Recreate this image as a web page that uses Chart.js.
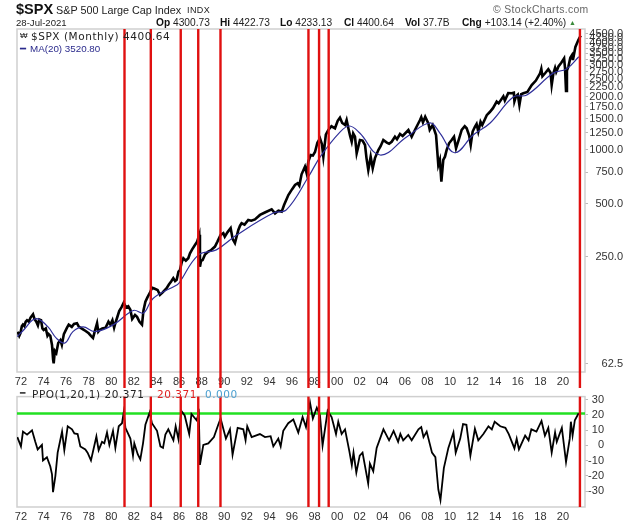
<!DOCTYPE html>
<html>
<head>
<meta charset="utf-8">
<script src="https://cdn.jsdelivr.net/npm/chart.js@4/dist/chart.umd.min.js"></script>
<style>
  html, body { margin: 0; padding: 0; background: #fff; }
  body { width: 640px; height: 523px; position: relative; overflow: hidden; font-family: "Liberation Sans", Arial, sans-serif; color: #222; }
  canvas { position: absolute; left: 0; }
  #priceChart { top: 0; }
  #ppoChart { top: 388px; }
  .txt { position: absolute; white-space: nowrap; z-index: 2; }
  .mono { font-family: "DejaVu Sans", sans-serif; font-size: 10.5px; letter-spacing: 0.55px; }
  b { color: #111; }
</style>
</head>
<body>
<div class="txt" style="left:16px;top:1px;font-size:14.5px;font-weight:bold;color:#111">$SPX</div>
<div class="txt" style="left:56px;top:4px;font-size:10.8px">S&amp;P 500 Large Cap Index</div>
<div class="txt" style="left:187px;top:5px;font-size:9px;letter-spacing:.4px">INDX</div>
<div class="txt" style="left:16px;top:17px;font-size:9.6px">28-Jul-2021</div>
<div class="txt" style="left:156px;top:17px;font-size:10.2px"><b>Op</b> 4300.73</div>
<div class="txt" style="left:220px;top:17px;font-size:10.2px"><b>Hi</b> 4422.73</div>
<div class="txt" style="left:280px;top:17px;font-size:10.2px"><b>Lo</b> 4233.13</div>
<div class="txt" style="left:344px;top:17px;font-size:10.2px"><b>Cl</b> 4400.64</div>
<div class="txt" style="left:405px;top:17px;font-size:10.2px"><b>Vol</b> 37.7B</div>
<div class="txt" style="left:462px;top:17px;font-size:10.2px"><b>Chg</b> +103.14 (+2.40%) <span style="color:#3a8a3a;font-size:7px;vertical-align:1px">▲</span></div>
<div class="txt" style="left:493px;top:4px;font-size:10.4px;color:#666;letter-spacing:.35px">© StockCharts.com</div>
<div class="txt" style="left:20px;top:31px;font-size:8px">₩</div>
<div class="txt mono" style="left:31px;top:30px">$SPX (Monthly) 4400.64</div>
<div class="txt" style="left:20px;top:43px;font-size:9.6px;color:#2a2a8c">━</div>
<div class="txt" style="left:30px;top:43px;font-size:9.8px;color:#2a2a8c">MA(20) 3520.80</div>
<div class="txt" style="left:20px;top:388px;font-size:9px">━</div>
<div class="txt mono" style="left:32px;top:388px">PPO(1,20,1) 20.371</div>
<div class="txt mono" style="left:157px;top:388px;color:#e02020">20.371</div>
<div class="txt mono" style="left:205px;top:388px;color:#4a9fd0">0.000</div>
<canvas id="priceChart" width="640" height="388"></canvas>
<canvas id="ppoChart" width="640" height="135"></canvas>
<script>
const priceDates = [1971.71,1971.85,1971.95,1972.08,1972.18,1972.3,1972.42,1972.54,1972.7,1972.85,1973.07,1973.2,1973.36,1973.5,1973.62,1973.78,1973.9,1974.01,1974.2,1974.35,1974.45,1974.6,1974.75,1974.85,1974.9,1975,1975.13,1975.3,1975.49,1975.62,1975.8,1976.08,1976.23,1976.5,1976.7,1976.96,1977.1,1977.26,1977.6,1978,1978.2,1978.38,1978.55,1978.74,1978.85,1978.97,1979.2,1979.5,1979.75,1979.92,1980.1,1980.25,1980.36,1980.5,1980.7,1980.9,1981.1,1981.3,1981.5,1981.69,1981.85,1982.1,1982.28,1982.5,1982.72,1982.85,1983.02,1983.2,1983.46,1983.6,1983.8,1984.1,1984.31,1984.55,1984.9,1985.1,1985.3,1985.49,1985.65,1985.79,1985.95,1986.08,1986.25,1986.38,1986.6,1986.82,1986.97,1987.15,1987.41,1987.6,1987.79,1987.85,1987.95,1988.09,1988.3,1988.59,1988.8,1989.18,1989.4,1989.68,1989.92,1990.05,1990.3,1990.57,1990.75,1990.95,1991.25,1991.4,1991.54,1991.8,1992.13,1992.4,1992.72,1993.17,1993.6,1994.2,1994.5,1994.8,1995.09,1995.3,1995.68,1996,1996.27,1996.5,1996.65,1996.85,1997.15,1997.3,1997.45,1997.65,1997.85,1998.04,1998.25,1998.48,1998.65,1998.78,1999,1999.22,1999.5,1999.81,2000.05,2000.25,2000.45,2000.7,2000.84,2001,2001.15,2001.29,2001.42,2001.58,2001.73,2002.02,2002.25,2002.47,2002.6,2002.76,2002.97,2003.15,2003.35,2003.65,2003.85,2004.09,2004.4,2004.6,2004.83,2005.12,2005.3,2005.57,2005.8,2006.31,2006.6,2006.9,2007.34,2007.45,2007.6,2007.8,2008.08,2008.2,2008.46,2008.76,2008.96,2009.1,2009.23,2009.4,2009.55,2009.7,2009.91,2010.14,2010.35,2010.53,2010.8,2011.03,2011.3,2011.47,2011.7,2011.83,2012,2012.21,2012.35,2012.5,2012.7,2012.85,2013.25,2013.54,2013.8,2014.13,2014.3,2014.72,2014.85,2015.15,2015.46,2015.65,2015.7,2015.84,2016,2016.14,2016.3,2016.49,2016.85,2017.23,2017.6,2017.97,2018.08,2018.18,2018.45,2018.7,2018.9,2019,2019.15,2019.3,2019.4,2019.6,2019.85,2020.1,2020.18,2020.27,2020.35,2020.48,2020.65,2020.8,2020.88,2021.1,2021.36,2021.57];
const priceValues = [95,90,93,102,104,102,108,110,108,114,119,112,108,103,111,110,99,97,99,90,92,90,80,66,63,74,72,82,85,80,92,100,104,101,105,106,102,100,97,93,90,87.5,96,106,95,97,99,100,108,104,110,100,106,113,124,130,138,130,132,126,112,118,115,108,104,125,140,148,159,168,166,163,153,158,167,175,182,190,183,186,207,211,235,246,238,246,262,275,292,305,333,220,238,240,258,268,272,286,305,333,340,325,345,363,315,299,355,375,387,380,404,400,407,431,445,464,440,455,450,490,558,600,636,650,630,730,805,740,860,937,930,975,1100,1163,1080,917,1220,1296,1360,1325,1460,1520,1420,1383,1475,1320,1200,1113,1240,1188,958,1138,1130,1067,900,772,917,789,900,1000,1050,1138,1100,1085,1113,1188,1150,1230,1200,1296,1188,1300,1475,1530,1430,1540,1413,1300,1383,1214,823,880,663,880,917,1000,1091,1138,1188,1022,1160,1296,1360,1325,1200,1067,1270,1352,1400,1268,1440,1380,1570,1641,1720,1871,1830,2005,1900,2090,2085,2100,1880,2005,2050,1792,2060,2085,2120,2321,2460,2702,2860,2600,2720,2847,2720,2321,2700,2900,2750,2950,3100,3280,2900,2149,2800,2946,3300,3420,3208,3800,4160,4400];
const maDates = [1971.67,1972.3,1973,1973.5,1974.4,1975.15,1975.9,1976.6,1977.5,1978.55,1980.2,1981.95,1982.85,1983.7,1985.8,1986,1987.7,1989.3,1991.1,1994.35,1995.5,1997.45,1998.5,2000.25,2001.1,2002,2003.8,2006.15,2008.2,2009.1,2010.4,2012.05,2013.55,2015.6,2016.8,2019.15,2020.3,2021.4];
const maValues = [89,98,110,112,101,87,82,95,101,95,104,125,121,146,174,178,256,274,332,442,460,705,915,1260,1365,1246,937,1183,1419,1246,965,1214,1419,1986,2040,2710,2855,3350];
const ppoDates = [1971.68,1972,1972.18,1972.54,1972.98,1973.27,1973.48,1973.86,1973.95,1974.3,1974.6,1974.75,1974.84,1975.05,1975.25,1975.64,1975.84,1976.14,1976.52,1976.73,1977.02,1977.26,1977.7,1977.9,1978.2,1978.68,1978.88,1979.18,1979.38,1979.62,1979.83,1980.15,1980.36,1980.66,1980.95,1981.1,1981.25,1981.69,1981.92,1982.04,1982.34,1982.57,1982.81,1983.02,1983.4,1983.6,1984.05,1984.35,1984.58,1984.79,1985.05,1985.5,1985.7,1985.95,1986.2,1986.5,1986.9,1987.1,1987.55,1987.75,1987.85,1988.15,1988.59,1989.09,1989.47,1989.68,1989.92,1990.15,1990.51,1990.74,1991.19,1991.69,1991.89,1992.04,1992.43,1993.16,1993.61,1994.11,1994.35,1994.79,1995,1995.23,1995.67,1996.12,1996.56,1996.94,1997.24,1997.6,1997.85,1998.2,1998.48,1998.71,1999.16,1999.51,1999.9,2000.1,2000.4,2000.7,2001.08,2001.3,2001.45,2001.7,2002,2002.25,2002.75,2002.9,2003.2,2003.5,2004.1,2004.6,2005,2005.4,2005.6,2005.85,2006.3,2006.6,2007.2,2007.45,2007.65,2007.93,2008.4,2008.7,2008.96,2009.15,2009.45,2009.85,2010.3,2010.5,2010.9,2011.15,2011.45,2011.8,2012.2,2012.5,2012.95,2013.4,2013.7,2013.95,2014.45,2014.9,2015.2,2015.7,2015.9,2016.1,2016.65,2016.95,2017.2,2017.65,2018.1,2018.4,2018.7,2019,2019.3,2019.45,2019.9,2020.27,2020.6,2020.7,2020.85,2021.05,2021.35,2021.55];
const ppoValues = [5.4,-0.7,9,7,9.9,2.3,-2.7,0.3,-9.9,-7.8,-13.9,-19,-30.8,-20,-4.8,9,-3.2,12.5,10.5,7.8,7.4,-0.7,-2.7,-4.8,-9.9,5.8,-3.2,2.3,1.3,8.4,0.3,9.5,-1.7,12.5,14.5,21.6,11.5,4.4,-6.8,1.3,-5.8,-9.2,1.3,13.5,21.6,14.5,9.5,-0.7,-1.7,7,10.5,3.3,12.5,4,22.6,19.6,7.4,20.6,16.5,21,-12.9,0.3,1.3,5.4,13.5,17.6,10.9,4.4,10.5,-6.2,11.5,10.5,3.4,12.5,5.4,7.4,5.4,6,-0.7,4.4,-0.7,9.5,14.5,17,8.4,18.6,12,28,17.6,24.7,19.6,-0.1,22.7,18.6,7.4,15.5,7.4,10.5,-3.8,-13,-4.8,-18,-6.8,-4.8,-25,-12,-17,-1.7,10.5,3.3,9.5,2.3,7.5,3.3,6.8,3.3,10.5,12,5.4,9,-4.8,-7.8,-29,-36,-15,-1.7,8.4,-4.8,4.4,14,13.5,-6.8,10.9,3.3,7.4,12.5,10.5,15.5,12.5,11.5,7.4,-2,4.4,-2.7,6.4,3.3,10.5,9,16,6.4,11.5,-4.8,8.4,2.3,11.5,-11,4.4,15.5,6.4,16.5,20.6,20.4];
const thresholdDates = [1971.65,2021.95];
const thresholdValues = [20.9,20.9];
const signalYears = [1981.17,1983.5,1986.15,1987.7,1989.67,1997.46,1998.4,1999.25,2021.5];
const yearTicks = [1972,1974,1976,1978,1980,1982,1984,1986,1988,1990,1992,1994,1996,1998,2000,2002,2004,2006,2008,2010,2012,2014,2016,2018,2020];
const priceTicks = [4500,4250,4000,3750,3500,3250,3000,2750,2500,2250,2000,1750,1500,1250,1000,750,500,250,62.5];
const ppoTicks = [30,20,10,0,-10,-20,-30];

const toPoints = (xs, ys) => xs.map((x, i) => ({ x, y: ys[i] }));
const tickFont = { family: '"Liberation Sans", Arial, sans-serif', size: 11 };

// grey frame round each panel, red signal lines over the data
const panelPlugin = {
  id: 'panel',
  beforeDatasetsDraw(chart) {
    const a = chart.chartArea, ctx = chart.ctx;
    ctx.save();
    ctx.strokeStyle = '#cfcfcf';
    ctx.lineWidth = 1.5;
    ctx.strokeRect(a.left, a.top, a.right - a.left, a.bottom - a.top);
    ctx.restore();
  },
  afterDatasetsDraw(chart, args, opts) {
    const ctx = chart.ctx, a = chart.chartArea;
    ctx.save();
    ctx.strokeStyle = '#e01010';
    ctx.lineWidth = 2.4;
    signalYears.forEach(year => {
      const x = chart.scales.x.getPixelForValue(year);
      ctx.beginPath();
      ctx.moveTo(x, a.top);
      ctx.lineTo(x, opts.toBottom ? chart.height : a.bottom);
      ctx.stroke();
    });
    ctx.restore();
  }
};

function xAxis(height) {
  return {
    type: 'linear',
    min: 1971.65,
    max: 2021.95,
    grid: { display: false, drawTicks: false },
    border: { display: false },
    afterBuildTicks: axis => { axis.ticks = yearTicks.map(value => ({ value })); },
    afterFit: axis => { axis.height = height; },
    ticks: {
      autoSkip: false, maxRotation: 0, padding: 3, color: '#333', font: tickFont,
      callback: value => String(value % 100).padStart(2, '0')
    }
  };
}

function yAxis(width, values, format) {
  return {
    position: 'right',
    grid: { drawOnChartArea: false, color: '#bbb', tickLength: 3 },
    border: { display: false },
    afterBuildTicks: axis => { axis.ticks = values.map(value => ({ value })); },
    afterFit: axis => { axis.width = width; },
    ticks: { autoSkip: false, padding: 2, crossAlign: 'far', color: '#333', font: tickFont, callback: format }
  };
}

new Chart(document.getElementById('priceChart'), {
  type: 'line',
  data: {
    datasets: [
      { data: toPoints(priceDates, priceValues), borderColor: '#000', borderWidth: 2.6, pointRadius: 0, tension: 0, order: 2 },
      { data: toPoints(maDates, maValues), borderColor: '#2f2f9a', borderWidth: 1.2, pointRadius: 0, tension: 0.4, order: 1 }
    ]
  },
  options: {
    responsive: false,
    animation: false,
    devicePixelRatio: 1,
    layout: { padding: { left: 17, top: 29, right: 17, bottom: 0 } },
    plugins: { legend: { display: false }, tooltip: { enabled: false }, panel: { toBottom: true } },
    scales: {
      x: xAxis(16),
      y: Object.assign(yAxis(38, priceTicks, value => value.toFixed(1)), { type: 'logarithmic', min: 56.3, max: 4797 })
    }
  },
  plugins: [panelPlugin]
});

new Chart(document.getElementById('ppoChart'), {
  type: 'line',
  data: {
    datasets: [
      { data: toPoints(ppoDates, ppoValues), borderColor: '#000', borderWidth: 1.8, pointRadius: 0, tension: 0 },
      { data: toPoints(thresholdDates, thresholdValues), borderColor: '#22e022', borderWidth: 2.4, pointRadius: 0 }
    ]
  },
  options: {
    responsive: false,
    animation: false,
    devicePixelRatio: 1,
    layout: { padding: { left: 17, top: 0, right: 36, bottom: 0 } },
    plugins: { legend: { display: false }, tooltip: { enabled: false }, panel: { toBottom: false } },
    scales: {
      x: xAxis(16),
      y: Object.assign(yAxis(19, ppoTicks, value => String(value)), { type: 'linear', min: -40.5, max: 32 })
    }
  },
  plugins: [panelPlugin]
});
</script>
</body>
</html>
